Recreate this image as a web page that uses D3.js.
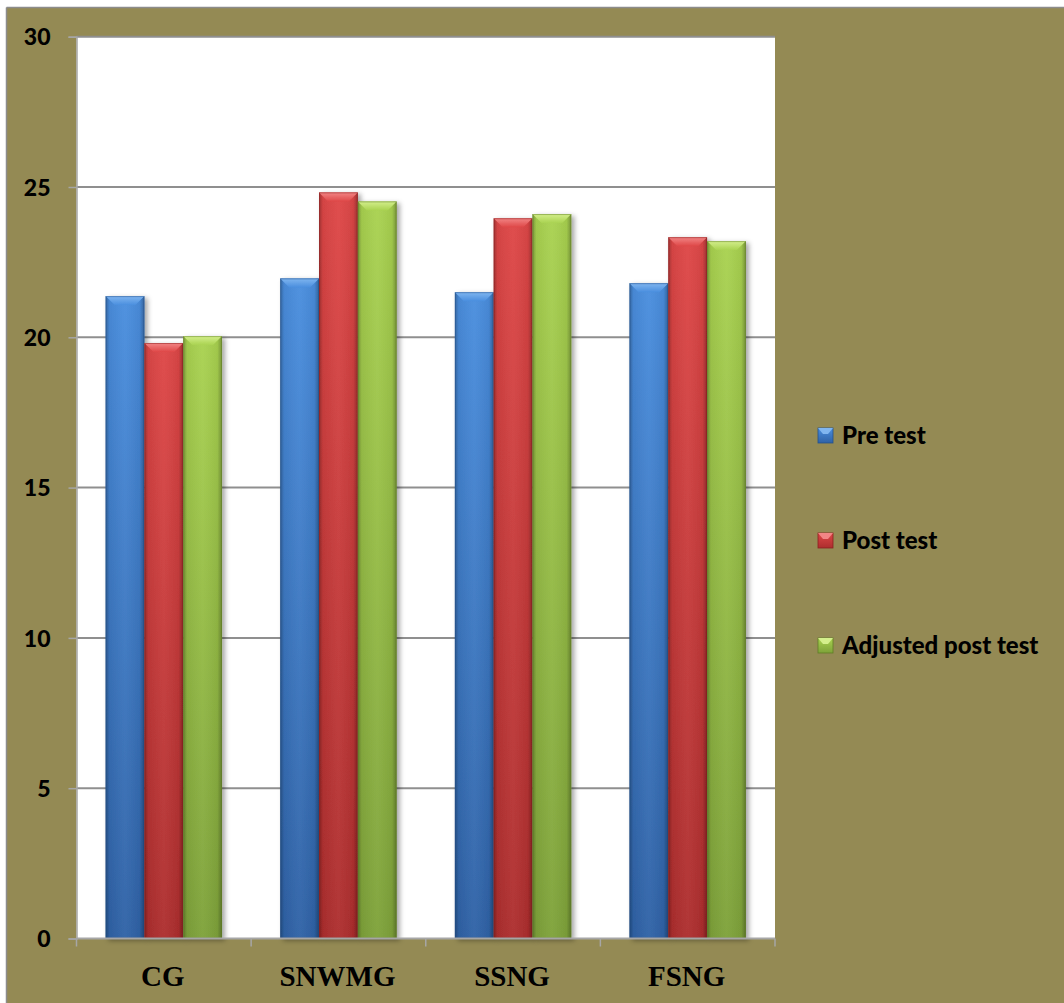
<!DOCTYPE html>
<html><head><meta charset="utf-8">
<script src="https://cdn.jsdelivr.net/npm/d3@7"></script>
<style>body{margin:0;background:#fff;}svg{display:block;}</style>
</head><body>
<svg id="chart" width="1064" height="1003"></svg>
<script>
const categories = ["CG", "SNWMG", "SSNG", "FSNG"];
const seriesNames = ["Pre test", "Post test", "Adjusted post test"];
const preTest = [21.37, 21.96, 21.5, 21.8];
const postTest = [19.81, 24.82, 23.96, 23.33];
const adjustedPostTest = [20.04, 24.52, 24.1, 23.2];
const yTicks = [0, 5, 10, 15, 20, 25, 30];
const seriesValues = [preTest, postTest, adjustedPostTest];

const palette = [
  {top:"#4a8ede", bot:"#2f62a6", bevel:"#80b6f0", edge:"#24508a"},
  {top:"#de4747", bot:"#ad2e2e", bevel:"#f28585", edge:"#8a2020"},
  {top:"#a9d250", bot:"#7ea23a", bevel:"#d4ef8c", edge:"#5f7d25"}
];

const svg = d3.select("#chart");
const W = 1064, H = 1003;
const plot = {x0: 76.5, x1: 775, y0: 36.7, y1: 938.5};

svg.append("rect").attr("x",0).attr("y",0).attr("width",W).attr("height",H).attr("fill","#ffffff");
svg.append("rect").attr("x",6.5).attr("y",7.5).attr("width",W).attr("height",H).attr("fill","#948a54");
svg.append("line").attr("x1",6.5).attr("x2",W).attr("y1",7.5).attr("y2",7.5).attr("stroke","#8c8c8c").attr("stroke-width",1.5);
svg.append("line").attr("x1",6.5).attr("x2",6.5).attr("y1",7.5).attr("y2",H).attr("stroke","#8c8c8c").attr("stroke-width",1.5);

svg.append("rect").attr("x",plot.x0).attr("y",plot.y0).attr("width",plot.x1-plot.x0).attr("height",plot.y1-plot.y0).attr("fill","#ffffff");

const x0 = d3.scaleBand().domain(categories).range([plot.x0, plot.x1]).paddingInner(0).paddingOuter(0);
const bw = x0.bandwidth();
const barW = bw / 4.5;
const x1 = d3.scaleBand().domain(d3.range(3)).range([barW*0.75, barW*0.75 + 3*barW]).padding(0);
const y = d3.scaleLinear().domain([0, 30]).range([plot.y1, plot.y0]);

const defs = svg.append("defs");
palette.forEach((p,i)=>{
  const g = defs.append("linearGradient").attr("id","v"+i).attr("x1",0).attr("y1",0).attr("x2",0).attr("y2",1);
  g.append("stop").attr("offset","0%").attr("stop-color",p.top);
  g.append("stop").attr("offset","100%").attr("stop-color",p.bot);
  const b = defs.append("linearGradient").attr("id","b"+i).attr("x1",0).attr("y1",0).attr("x2",0).attr("y2",1);
  b.append("stop").attr("offset","0%").attr("stop-color",p.bevel);
  b.append("stop").attr("offset","100%").attr("stop-color",p.top);
});
const hg = defs.append("linearGradient").attr("id","hshade").attr("x1",0).attr("y1",0).attr("x2",1).attr("y2",0);
hg.append("stop").attr("offset","0%").attr("stop-color","#000").attr("stop-opacity",0.28);
hg.append("stop").attr("offset","10%").attr("stop-color","#000").attr("stop-opacity",0.05);
hg.append("stop").attr("offset","50%").attr("stop-color","#fff").attr("stop-opacity",0.04);
hg.append("stop").attr("offset","88%").attr("stop-color","#000").attr("stop-opacity",0.05);
hg.append("stop").attr("offset","100%").attr("stop-color","#000").attr("stop-opacity",0.3);
const f = defs.append("filter").attr("id","shadow").attr("x","-20%").attr("y","-5%").attr("width","150%").attr("height","115%");
f.append("feDropShadow").attr("dx",3).attr("dy",2).attr("stdDeviation",2.5).attr("flood-color","#000").attr("flood-opacity",0.35);

svg.append("g").selectAll("line").data(yTicks.filter(t=>t>0)).join("line")
  .attr("x1",plot.x0).attr("x2",plot.x1)
  .attr("y1",d=>y(d)).attr("y2",d=>y(d))
  .attr("stroke","#8f8f8f").attr("stroke-width",2);

const yAxis = svg.append("g").attr("transform",`translate(${plot.x0},0)`)
  .call(d3.axisLeft(y).tickValues(yTicks).tickSize(8).tickPadding(18).tickFormat(d3.format("d")));
yAxis.select(".domain").attr("stroke","#a6a6a6").attr("stroke-width",1.5);
yAxis.selectAll(".tick line").attr("stroke","#a6a6a6").attr("stroke-width",1.5);
yAxis.selectAll("text").attr("font-family","Lato, 'Open Sans', sans-serif").attr("font-weight","900")
  .attr("font-size",23).attr("fill","#000").attr("x",-26).attr("dy","0.36em");

const groups = svg.append("g").selectAll("g").data(categories).join("g")
  .attr("transform",d=>`translate(${x0(d)},0)`);
groups.each(function(cat, ci){
  const g = d3.select(this);
  seriesValues.forEach((vals, si)=>{
    const v = vals[ci];
    const bx = x1(si), by = y(v), bh = y(0) - y(v), w = x1.bandwidth();
    const bar = g.append("g").attr("filter","url(#shadow)");
    bar.append("rect").attr("x",bx).attr("y",by).attr("width",w).attr("height",bh).attr("fill",`url(#v${si})`);
    bar.append("rect").attr("x",bx).attr("y",by).attr("width",w).attr("height",bh).attr("fill","url(#hshade)");
    const bev = 9;
    bar.append("path").attr("d",`M${bx},${by}L${bx+w},${by}L${bx+w-bev},${by+bev}L${bx+bev},${by+bev}Z`)
      .attr("fill",`url(#b${si})`);
    bar.append("rect").attr("x",bx+0.5).attr("y",by+0.5).attr("width",w-1).attr("height",bh-1)
      .attr("fill","none").attr("stroke",palette[si].edge).attr("stroke-opacity",0.5).attr("stroke-width",1);
  });
});

svg.append("line").attr("x1",plot.x0).attr("x2",plot.x1).attr("y1",y(0)).attr("y2",y(0))
  .attr("stroke","#a6a6a6").attr("stroke-width",2);
const bounds = categories.map(c=>x0(c)).concat([plot.x1]);
svg.append("g").selectAll("line").data(bounds).join("line")
  .attr("x1",d=>d).attr("x2",d=>d).attr("y1",y(0)).attr("y2",y(0)+8)
  .attr("stroke","#a6a6a6").attr("stroke-width",1.5);
svg.append("g").selectAll("text").data(categories).join("text")
  .attr("x",d=>x0(d)+bw/2-1).attr("y",986)
  .attr("text-anchor","middle")
  .attr("font-family","'Liberation Serif', 'Times New Roman', serif").attr("font-weight","bold")
  .attr("font-size",29).attr("fill","#000").text(d=>d);

const legendY = [435, 540, 645];
const leg = svg.append("g").selectAll("g").data(seriesNames).join("g")
  .attr("transform",(d,i)=>`translate(818,${legendY[i]})`);
leg.append("rect").attr("x",0).attr("y",-7).attr("width",15).attr("height",15).attr("fill",(d,i)=>`url(#v${i})`)
  .attr("stroke",(d,i)=>palette[i].edge).attr("stroke-width",0.8);
leg.append("path").attr("d","M0,-7L15,-7L10,-1L5,-1Z").attr("fill",(d,i)=>palette[i].bevel);
leg.append("text").attr("x",24).attr("y",9)
  .attr("font-family","Lato, 'Open Sans', sans-serif").attr("font-weight","900")
  .attr("font-size",24).attr("fill","#000").text(d=>d);
</script>
</body></html>
